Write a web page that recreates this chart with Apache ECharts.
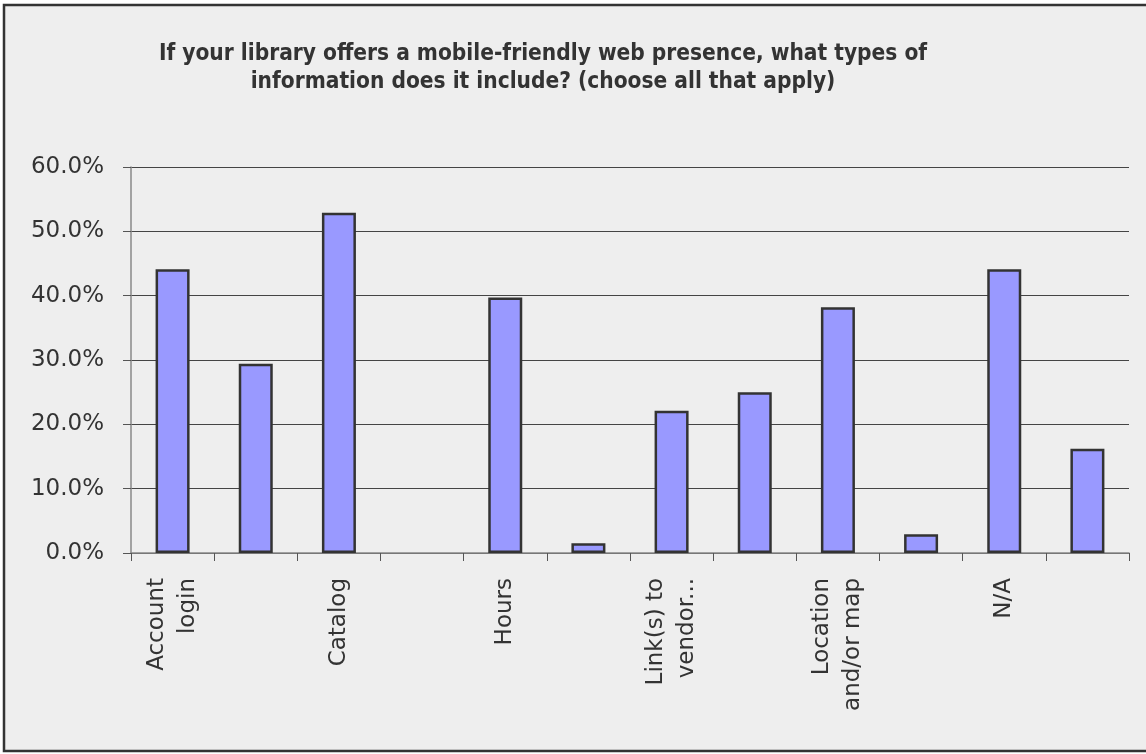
<!DOCTYPE html>
<html>
<head>
<meta charset="utf-8">
<script src="https://cdn.jsdelivr.net/npm/echarts@6/dist/echarts.min.js"></script>
<style>html,body{margin:0;padding:0;background:#fff}#c{width:1146px;height:754px}</style>
</head>
<body>
<div id="c"></div>
<script>
const titleLines = ['If your library offers a mobile-friendly web presence, what types of', 'information does it include? (choose all that apply)'];
const categories = ['Account\nlogin', 'Ask a\nlibrarian', 'Catalog', 'Databases', 'Hours', 'Interlibrary\nloan', 'Link(s) to\nvendor...', 'Links to\nsocial media', 'Location\nand/or map', 'Mobile\napps', 'N/A', 'Other'];
const values = [0.441, 0.294, 0.529, 0, 0.397, 0.015, 0.221, 0.250, 0.382, 0.029, 0.441, 0.162];
const yTicks = [0, 0.1, 0.2, 0.3, 0.4, 0.5, 0.6];

const barData = values.map(v => v === 0 ? {value: v, itemStyle: {borderWidth: 0}} : v);

const chart = echarts.init(document.getElementById('c'), null, {renderer: 'canvas'});
chart.setOption({
  backgroundColor: '#ffffff',
  animation: false,
  graphic: [{
    type: 'rect', z: -10, silent: true,
    shape: {x: 4, y: 5, width: 1150, height: 746},
    style: {fill: '#eeeeee', stroke: '#333333', lineWidth: 2.5}
  }],
  title: {
    text: titleLines.join('\n'),
    left: 538, top: 35, textAlign: 'center',
    textStyle: {fontFamily: "'DejaVu Sans Condensed', 'Liberation Sans Narrow', Roboto, sans-serif", fontSize: 22.5, fontWeight: 'bold', color: '#333333', lineHeight: 28}
  },
  grid: {left: 131, right: 17, top: 167, bottom: 201, containLabel: false},
  xAxis: {
    type: 'category', data: categories,
    axisLine: {lineStyle: {color: '#888888', width: 1.5}},
    axisTick: {show: true, interval: 0, length: 8, lineStyle: {color: '#555555'}},
    axisLabel: {interval: 1, rotate: 90, margin: 25, fontFamily: "'DejaVu Sans', sans-serif", fontSize: 23, color: '#333333', lineHeight: 31}
  },
  yAxis: {
    type: 'value', min: yTicks[0], max: yTicks[yTicks.length - 1], interval: yTicks[1] - yTicks[0],
    axisLine: {show: true, lineStyle: {color: '#888888', width: 1.5}},
    axisTick: {show: true, length: 8, lineStyle: {color: '#555555'}},
    axisLabel: {margin: 27, fontFamily: "'DejaVu Sans', sans-serif", fontSize: 23, color: '#333333',
      formatter: v => (v * 100).toFixed(1) + '%'},
    splitLine: {show: true, lineStyle: {color: '#444444', width: 1}}
  },
  series: [{
    type: 'bar', data: barData, barWidth: 34,
    itemStyle: {color: '#9999ff', borderColor: '#333333', borderWidth: 2.5}
  }]
});
</script>
</body>
</html>
